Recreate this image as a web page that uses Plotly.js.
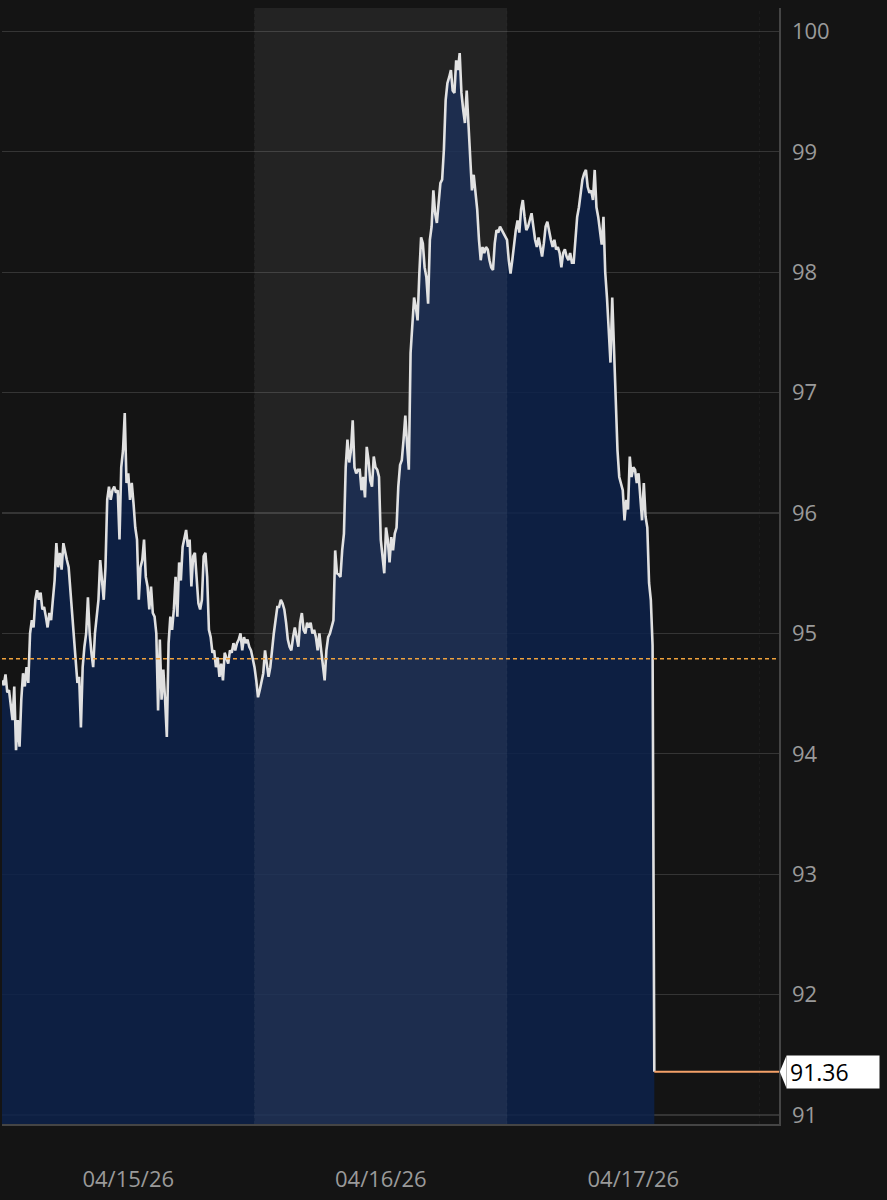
<!DOCTYPE html>
<html><head><meta charset="utf-8">
<script src="https://cdn.plot.ly/plotly-3.0.1.min.js"></script>
<style>html,body{margin:0;padding:0;background:#141414;}#chart{width:887px;height:1200px;}</style>
</head><body><div id="chart"></div>
<script>
// ---- data ----
const startDate = Date.UTC(2026, 3, 15, 0, 0);   // first sample 04/15/26 00:00
const stepMinutes = 10;                           // sampling interval
const prices = [
94.61,94.57,94.66,94.51,94.53,94.39,94.28,94.56,94.03,94.28,
94.06,94.45,94.67,94.56,94.72,94.59,95.00,95.11,95.05,95.28,
95.36,95.28,95.34,95.20,95.22,95.14,95.05,95.17,95.11,95.28,
95.44,95.75,95.55,95.67,95.53,95.75,95.67,95.61,95.55,95.34,
95.17,94.95,94.78,94.59,94.64,94.22,94.72,94.89,95.00,95.30,
95.00,94.84,94.72,95.00,95.14,95.28,95.61,95.47,95.28,95.55,
96.11,96.22,96.11,96.19,96.22,96.17,96.19,95.78,96.38,96.52,
96.83,96.25,96.33,96.11,96.25,96.08,95.88,95.78,95.28,95.55,
95.61,95.78,95.47,95.39,95.20,95.39,95.17,95.14,95.00,94.36,
94.95,94.45,94.70,94.45,94.14,94.92,95.14,95.03,95.20,95.47,
95.14,95.59,95.44,95.72,95.80,95.86,95.72,95.78,95.39,95.64,
95.67,95.47,95.25,95.20,95.28,95.64,95.67,95.47,95.03,94.97,
94.84,94.86,94.72,94.80,94.64,94.75,94.61,94.84,94.80,94.75,
94.86,94.84,94.92,94.86,94.92,94.95,95.00,94.86,94.97,94.92,
94.95,94.89,94.86,94.80,94.72,94.61,94.47,94.53,94.61,94.67,
94.86,94.72,94.64,94.72,94.89,95.00,95.11,95.22,95.22,95.28,
95.25,95.20,95.09,94.95,94.89,94.86,94.97,95.05,94.97,94.89,
95.09,95.17,95.03,95.00,95.09,95.05,95.09,95.00,95.03,94.97,
94.86,95.00,94.86,94.75,94.61,94.86,94.97,95.00,95.07,95.11,
95.69,95.50,95.49,95.47,95.69,95.83,96.38,96.61,96.42,96.52,
96.77,96.38,96.33,96.36,96.36,96.19,96.30,96.13,96.55,96.44,
96.27,96.22,96.47,96.38,96.36,96.30,95.78,95.61,95.50,95.88,
95.78,95.59,95.80,95.69,95.83,95.88,96.22,96.40,96.44,96.61,
96.81,96.57,96.36,97.33,97.55,97.79,97.71,97.60,97.99,98.29,
98.24,98.04,97.96,97.74,98.27,98.38,98.68,98.49,98.41,98.60,
98.74,98.77,99.02,99.43,99.57,99.62,99.68,99.51,99.49,99.76,
99.68,99.82,99.49,99.35,99.24,99.51,99.21,98.97,98.68,98.81,
98.68,98.52,98.27,98.10,98.21,98.16,98.21,98.19,98.10,98.04,
98.02,98.24,98.35,98.33,98.38,98.35,98.33,98.29,98.27,98.10,
97.99,98.10,98.24,98.35,98.43,98.33,98.52,98.60,98.46,98.35,
98.38,98.43,98.49,98.38,98.27,98.21,98.29,98.21,98.13,98.24,
98.38,98.42,98.33,98.27,98.21,98.27,98.19,98.21,98.16,98.04,
98.16,98.19,98.13,98.10,98.16,98.08,98.08,98.27,98.46,98.54,
98.68,98.77,98.82,98.85,98.71,98.66,98.68,98.60,98.85,98.54,
98.46,98.35,98.23,98.46,98.00,97.79,97.52,97.25,97.79,97.35,
96.80,96.52,96.30,96.25,96.19,95.94,96.11,96.03,96.47,96.30,
96.38,96.36,96.25,96.33,96.11,95.94,96.25,95.97,95.88,95.42,
95.28,94.90,91.36
];
const previousClose = 94.79;
const lastPrice = 91.36;
const yTicks = [91, 92, 93, 94, 95, 96, 97, 98, 99, 100];
const xTickDates = ['2026-04-15 12:00', '2026-04-16 12:00', '2026-04-17 12:00'];
const xTickLabels = ['04/15/26', '04/16/26', '04/17/26'];
const highlightDay = ['2026-04-16 00:00', '2026-04-17 00:00'];
const dayBoundaries = ['2026-04-16 00:00', '2026-04-17 00:00', '2026-04-18 00:00'];
const xRange = ['2026-04-15 00:00', '2026-04-18 01:51'];
const yRange = [90.926, 100.195];

// ---- build ----
function fmt(ms) {
  const d = new Date(ms), p = n => String(n).padStart(2, '0');
  return d.getUTCFullYear() + '-' + p(d.getUTCMonth() + 1) + '-' + p(d.getUTCDate()) +
         ' ' + p(d.getUTCHours()) + ':' + p(d.getUTCMinutes());
}
const times = prices.map((_, i) => fmt(startDate + i * stepMinutes * 60000));
const lastTime = times[times.length - 1];

const FONT = 'Open Sans, Noto Sans, sans-serif';

const traces = [
  {
    type: 'scatter', mode: 'lines', x: times, y: prices,
    line: { color: '#e0e0e0', width: 2.6 },
    fill: 'tozeroy', fillcolor: 'rgba(13,34,74,0.86)',
    hoverinfo: 'skip'
  },
  {
    type: 'scatter', mode: 'lines', x: [lastTime, xRange[1]], y: [lastPrice, lastPrice],
    line: { color: '#f4a168', width: 2 }, hoverinfo: 'skip'
  }
];

const shapes = [
  { type: 'rect', xref: 'x', yref: 'paper', x0: highlightDay[0], x1: highlightDay[1], y0: 0, y1: 1,
    fillcolor: 'rgba(255,255,255,0.065)', line: { width: 0 }, layer: 'above' },
  { type: 'line', xref: 'paper', yref: 'y', x0: 0, x1: 1, y0: previousClose, y1: previousClose,
    line: { color: '#f0a23c', width: 1.6, dash: '4px,3px' }, layer: 'above' }
];
dayBoundaries.forEach(d => shapes.push({
  type: 'line', xref: 'x', yref: 'paper', x0: d, x1: d, y0: 0, y1: 1,
  line: { color: 'rgba(255,255,255,0.035)', width: 1, dash: 'dot' }, layer: 'above'
}));
// pointer of the last-price tag
shapes.push({
  type: 'path', xref: 'paper', yref: 'y',
  path: `M 1.0010 ${lastPrice} L 1.0095 ${lastPrice + 0.132} L 1.0095 ${lastPrice - 0.132} Z`,
  fillcolor: '#ffffff', line: { width: 0 }
});

const layout = {
  width: 887, height: 1200,
  margin: { l: 2, r: 108, t: 8, b: 76 },
  paper_bgcolor: '#141414', plot_bgcolor: '#141414',
  showlegend: false, hovermode: false,
  font: { family: FONT, color: '#9a9a9a', size: 22 },
  xaxis: {
    type: 'date', range: xRange, tickmode: 'array', tickvals: xTickDates, ticktext: xTickLabels,
    showgrid: false, zeroline: false, showline: true, linecolor: '#454545', linewidth: 1.5,
    ticks: '', ticklabelstandoff: 35, tickfont: { family: FONT, size: 22, color: '#9a9a9a' }
  },
  yaxis: {
    side: 'right', range: yRange, tickmode: 'array', tickvals: yTicks,
    showgrid: true, gridcolor: '#353535', gridwidth: 1.2, zeroline: false,
    showline: true, linecolor: '#454545', linewidth: 1.5,
    ticks: '', ticklabelstandoff: 7, tickfont: { family: FONT, size: 22, color: '#9a9a9a' }
  },
  shapes: shapes,
  annotations: [{
    xref: 'paper', yref: 'y', x: 1.0085, y: lastPrice, xanchor: 'left', yanchor: 'middle',
    text: lastPrice.toFixed(2), showarrow: false, align: 'left',
    bgcolor: '#ffffff', width: 86, height: 26, borderpad: 3,
    font: { family: FONT, size: 23, color: '#000000' }
  }]
};

Plotly.newPlot('chart', traces, layout, { displayModeBar: false, staticPlot: true });
</script>
</body></html>
